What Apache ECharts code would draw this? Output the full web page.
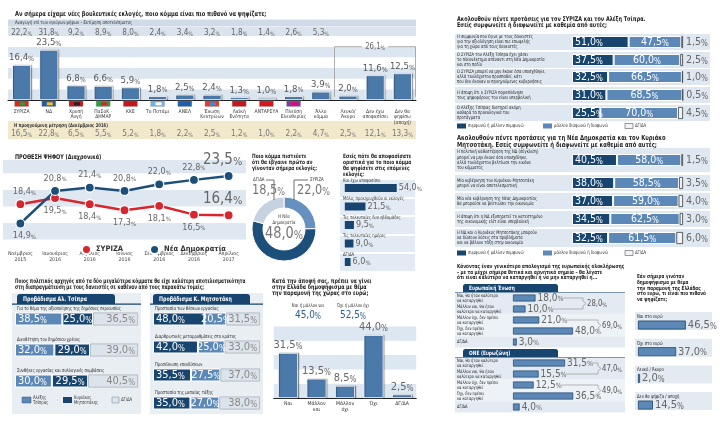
<!DOCTYPE html>
<html>
<head>
<meta charset="utf-8">
<script src="https://cdn.jsdelivr.net/npm/echarts@6/dist/echarts.min.js"></script>
<style>html,body{margin:0;padding:0;background:#fff;}#chart{width:725px;height:430px;}</style>
</head>
<body>
<div id="chart"></div>
<script>
// ================= DATA =================
const partyNames = ['ΣΥΡΙΖΑ','ΝΔ','Χρυσή\nΑυγή','ΠαΣοΚ -\nΔΗΜΑΡ','ΚΚΕ','Το Ποτάμι','ΑΝΕΛ','Ένωση\nΚεντρώων','Λαϊκή\nΕνότητα','ΑΝΤΑΡΣΥΑ','Πλεύση\nΕλευθερίας','Άλλο\nκόμμα','Λευκό/\nΆκυρο','Δεν έχω\nαποφασίσει','Δεν θα\nψηφίσω\n(αποχή)'];
const voteIntention = [16.4,23.5,6.8,6.6,5.9,1.8,2.5,2.4,1.3,1.0,1.8,3.9,2.0,11.6,12.5];
const voteValidShare = [22.2,31.8,9.2,8.9,8.0,2.4,3.4,3.2,1.8,1.4,2.6,5.3];
const votePrevious = [16.5,22.8,6.5,5.5,5.2,1.8,2.2,2.5,1.2,1.0,2.2,4.7,2.5,12.1,13.3];
const undecidedTotal = 26.1;

const trendDates = ['Νοέμβριος\n2015','Ιανουάριος\n2016','Απρίλιος\n2016','Ιούνιος\n2016','Σεπτέμβριος\n2016','Δεκέμβριος\n2016','Απρίλιος\n2017'];
const trendSyriza = [18.4,19.5,18.4,17.3,18.1,16.5,16.4];
const trendND = [14.9,20.8,21.4,20.8,22.0,22.8,23.5];

const winnerNames = ['ΣΥΡΙΖΑ','Η Νέα Δημοκρατία','ΔΓ/ΔΑ'];
const winnerValues = [22.0,48.0,18.5];

const decideLabels = ['Και έχω αποφασίσει','Μόλις προκηρυχθούν οι εκλογές','Τις τελευταίες δυο εβδομάδες','Τις τελευταίες ημέρες','ΔΓ/ΔΑ'];
const decideValues = [54.0,21.5,9.5,9.0,6.0];

const tsiprasTopics = ['Για το θέμα της αξιοποίησης της δημόσιας περιουσίας','Διευθέτηση του δημόσιου χρέους','Συνθήκες εργασίας και συλλογικές συμβάσεις'];
const tsiprasSideTsipras = [38.5,32.0,30.0];
const tsiprasSideMitsotakis = [25.0,29.0,29.5];
const tsiprasSideDk = [36.5,39.0,40.5];
const mitsTopics = ['Προστασία των θέσεων εργασίας','Διαρθρωτικές μεταρρυθμίσεις στο κράτος','Προσέλκυση επενδύσεων','Προστασία της μεσαίας τάξης'];
const mitsSideMitsotakis = [48.0,42.0,35.5,35.0];
const mitsSideTsipras = [20.5,25.0,27.5,27.0];
const mitsSideDk = [31.5,33.0,37.0,38.0];

const referendumCats = ['Ναι','Μάλλον\nναι','Μάλλον\nόχι','Όχι','ΔΓ/ΔΑ'];
const referendumValues = [31.5,13.5,8.5,44.0,2.5];
const referendumYesTotal = 45.0;
const referendumNoTotal = 52.5;

const syrizaStatements = [
 'Η συμφωνία που έγινε με τους δανειστές\nγια την αξιολόγηση είναι πιο επωφελής\nγια τη χώρα από τους δανειστές',
 'Ο ΣΥΡΙΖΑ του Αλέξη Τσίπρα έχει χάσει\nτο πλεονέκτημα απέναντι στη Νέα Δημοκρατία\nκαι στο πεδίο',
 'Ο ΣΥΡΙΖΑ μπορεί να μην έκανε όσα υποσχέθηκε,\nαλλά τουλάχιστον προσπαθεί, κάτι\nπου δεν έκαναν οι προηγούμενες κυβερνήσεις',
 'Η άποψη ότι ο ΣΥΡΙΖΑ παραπλάνησε\nτους ψηφοφόρους του είναι υπερβολική',
 'Ο Αλέξης Τσίπρας διατηρεί ακόμη\nκαθαρά τα προεκλογικά του\nπροτάγματα'];
const syrizaAgree = [51.0,37.5,32.5,31.0,25.5];
const syrizaDisagree = [47.5,60.0,66.5,68.5,70.0];
const syrizaDk = [1.5,2.5,1.0,0.5,4.5];

const ndStatements = [
 'Η πολιτική καθυστέρηση της ΝΔ (σύγκλιση)\nμπορεί να μην έκανε όσα υποσχέθηκε,\nαλλά τουλάχιστον βελτίωσε την εικόνα\nτου κόμματος',
 'Μία κυβέρνηση του Κυριάκου Μητσοτάκη\nμπορεί να είναι αποτελεσματική',
 'Μία νέα κυβέρνηση της Νέας Δημοκρατίας\nθα μπορούσε να βελτιώσει την οικονομία',
 'Η άποψη ότι η ΝΔ εξυπηρετεί το κατεστημένο\nτης οικονομικής ελίτ είναι υπερβολική',
 'Η ΝΔ και ο Κυριάκος Μητσοτάκης μπορούν\nνα δώσουν λύσεις στα προβλήματα\nκαι να βάλουν τάξη στην οικονομία'];
const ndAgree = [40.5,38.0,37.0,34.5,32.5];
const ndDisagree = [58.0,58.5,59.0,62.5,61.5];
const ndDk = [1.5,3.5,4.0,3.0,6.0];

const abolishLabels = ['Ναι, θα ήταν καλύτερο\nνα καταργηθεί','Μάλλον ναι, θα ήταν\nκαλύτερο να καταργηθεί','Μάλλον όχι, δεν πρέπει\nνα καταργηθεί','Όχι, δεν πρέπει\nνα καταργηθεί','ΔΓ/ΔΑ'];
const euValues = [18.0,10.0,21.0,48.0,3.0];
const euGroupTotals = [28.0,69.0];
const emuValues = [31.5,15.5,12.5,36.5,4.0];
const emuGroupTotals = [47.0,49.0];

const euroVoteLabels = ['Ναι στο ευρώ','Όχι στο ευρώ','Λευκό / Άκυρο','Δεν θα ψήφιζα / αποχή'];
const euroVoteValues = [46.5,37.0,2.0,14.5];

// ================= STYLE / LAYOUT =================
const F = "'Liberation Sans Narrow','DejaVu Sans Condensed','Arial Narrow','Liberation Sans',sans-serif";
const NAVY = '#17456f', MID = '#5b88b7', BAR = '#4a79aa', DKC = '#dde3ea';
const partyLogoColors = [['#e2231a','#2e9a3c'],['#1f5aa6','#f2c230'],['#c4161c','#222'],['#2a9d3c','#d2232a'],['#c4161c','#c4161c'],['#6fb3e0','#ffffff'],['#1d5fa8','#1d5fa8'],['#e6392b','#3a8fd6'],['#c4161c','#c4161c'],['#d3171e','#d3171e'],['#7e3f98','#e5007e']];
const fmt = v => v.toFixed(1).replace('.', ',');
function richOf(size, color){
  return {n:{fontSize:size,color:color,fontFamily:F,verticalAlign:'bottom'},
          p:{fontSize:Math.round(size*0.72),color:color,fontFamily:F,verticalAlign:'bottom'}};
}
function rl(size, color, extra){
  return Object.assign({show:true, formatter:p=>'{n|'+fmt(p.value)+'}{p|%}', rich:richOf(size,color)}, extra||{});
}

const grids=[], xAxes=[], yAxes=[], series=[];
function addGrid(g, xa, ya){
  const i = grids.length;
  grids.push(Object.assign({containLabel:false}, g));
  xAxes.push(Object.assign({gridIndex:i}, xa));
  yAxes.push(Object.assign({gridIndex:i}, ya));
  return i;
}
function valAxis(min,max,extra){
  return Object.assign({type:'value',min,max,axisLine:{show:false},axisTick:{show:false},axisLabel:{show:false},splitLine:{show:false}}, extra||{});
}
function catAxis(data,extra){
  return Object.assign({type:'category',data,axisLine:{show:false},axisTick:{show:false},axisLabel:{show:false},splitLine:{show:false}}, extra||{});
}
function stackBar(gi, data, color, label, item, bw){
  series.push({type:'bar', stack:'st'+gi, xAxisIndex:gi, yAxisIndex:gi, data, barWidth:bw||13,
    itemStyle:Object.assign({color, borderColor:'#fff', borderWidth:1}, item||{}), label});
}

// --- A: vote intention bars
const gA = addGrid({left:8, top:36, width:408, height:64},
  catAxis(partyNames,{axisLine:{show:true,lineStyle:{color:'#222',width:1}},axisLabel:{show:true,interval:0,fontSize:5,lineHeight:5.6,color:'#333',margin:8.5,fontFamily:F}}),
  valAxis(0,30,{interval:5,splitArea:{show:true,areaStyle:{color:['#dce6f0','#ffffff']}}}));
series.push({type:'bar', xAxisIndex:gA, yAxisIndex:gA, data:voteIntention, barWidth:19,
  itemStyle:{color:BAR, borderColor:'#ffffff', borderWidth:0.8, shadowColor:'rgba(0,0,0,0.35)', shadowBlur:1, shadowOffsetX:1},
  label:rl(9.5,'#555',{position:'top',distance:2})});

// --- B: trend lines
const gB = addGrid({left:3, top:160, width:243, height:79.5},
  catAxis(trendDates,{axisLabel:{show:true,interval:0,fontSize:5.2,lineHeight:6.2,color:'#444',margin:11,fontFamily:F}}),
  valAxis(12,26.4,{interval:3,splitArea:{show:true,areaStyle:{color:['#dfe8f1','#ffffff']}}}));
const smallRich = richOf(9,'#666'), bigRich = richOf(15,'#666');
function trendSeries(name, vals, pos, color){
  return {type:'line', name, xAxisIndex:gB, yAxisIndex:gB, z:5,
    data: vals.map((v,i)=>{ const last=i===vals.length-1;
      return {value:v, label:{position:pos[i], offset:last?[-6,0]:(i===0?[4,0]:[0,0]), rich:last?bigRich:smallRich}}; }),
    symbol:'circle', symbolSize:9, lineStyle:{color, width:2.5},
    itemStyle:{color, borderColor:'#fff', borderWidth:1.2},
    label:{show:true, distance:3, formatter:p=>'{n|'+fmt(p.value)+'}{p|%}', rich:smallRich}};
}
series.push(trendSeries('ΣΥΡΙΖΑ', trendSyriza, ['top','bottom','bottom','bottom','bottom','bottom','top'], '#d8262e'));
series.push(trendSeries('Νέα Δημοκρατία', trendND, ['bottom','top','top','top','top','top','top'], '#1c4f7a'));

// --- C: donut
const winnerColors = ['#6690bd', '#1c4f7a', '#c5d2df'];
series.push({type:'pie', center:[284,229], radius:[21,32], startAngle:90, clockwise:true, silent:true,
  label:{show:false}, labelLine:{show:false}, itemStyle:{borderColor:'#fff',borderWidth:1},
  data: winnerNames.map((n,i)=>({name:n, value:winnerValues[i], itemStyle:{color:winnerColors[i], borderColor:'#fff', borderWidth:1}}))});

// --- D: when decided
const gD = addGrid({left:340, top:178.75, width:75, height:92.5}, valAxis(-5,73),
  catAxis(decideLabels,{inverse:true,splitArea:{show:true,areaStyle:{color:['#e2eaf3','#e2eaf3']}},splitLine:{show:true,lineStyle:{color:'#fff',width:2}}}));
series.push({type:'bar', xAxisIndex:gD, yAxisIndex:gD, data:decideValues, barWidth:8, itemStyle:{color:NAVY},
  label:rl(9,'#666',{position:'right',distance:2})});

// --- E: leaders
const gE1 = addGrid({left:15, top:303.5, width:123, height:93}, valAxis(0,100), catAxis(tsiprasTopics,{inverse:true}));
stackBar(gE1, tsiprasSideTsipras, MID, rl(11,'#fff',{position:'insideLeft',distance:3}));
stackBar(gE1, tsiprasSideMitsotakis, NAVY, rl(11,'#fff',{position:'inside'}));
stackBar(gE1, tsiprasSideDk, DKC, rl(11,'#888',{position:'insideRight',distance:3}), {borderColor:'#aab3bd',borderWidth:0.8});
const gE2 = addGrid({left:153, top:305, width:107, height:112}, valAxis(0,100), catAxis(mitsTopics,{inverse:true}));
stackBar(gE2, mitsSideMitsotakis, NAVY, rl(11,'#fff',{position:'insideLeft',distance:3}));
stackBar(gE2, mitsSideTsipras, MID, rl(11,'#fff',{position:'inside'}));
stackBar(gE2, mitsSideDk, DKC, rl(11,'#888',{position:'insideRight',distance:3}), {borderColor:'#aab3bd',borderWidth:0.8});

// --- F: referendum
const gF = addGrid({left:273.75, top:326.5, width:142.5, height:71.5},
  catAxis(referendumCats,{axisLine:{show:true,lineStyle:{color:'#222'}},axisLabel:{show:true,interval:0,fontSize:5.2,lineHeight:5.8,color:'#333',margin:3,fontFamily:F}}),
  valAxis(0,50,{interval:10,splitArea:{show:true,areaStyle:{color:['#dde7f1','#ffffff']}}}));
series.push({type:'bar', xAxisIndex:gF, yAxisIndex:gF, data:referendumValues, barWidth:20,
  itemStyle:{color:BAR, borderColor:'#fff', borderWidth:0.8, shadowColor:'rgba(0,0,0,0.35)', shadowBlur:1, shadowOffsetX:1},
  label:rl(11,'#666',{position:'top',distance:2})});

// --- G/H: statements
function statementRow(cy,h,a,d,k){
  const gi = addGrid({left:455,width:255,top:cy-h/2,height:h}, valAxis(-105.4,124.3),
    catAxis([''],{splitArea:{show:true,areaStyle:{color:['#dfe8f1']}}}));
  stackBar(gi,[a],NAVY,rl(10.5,'#fff',{position:'insideLeft',distance:3}),null,12);
  stackBar(gi,[d],MID,rl(10.5,'#fff',{position:'inside'}),null,12);
  stackBar(gi,[k],'#f1f3f6',rl(10.5,'#666',{position:'right',distance:3}),{borderColor:'#3b3b3b',borderWidth:0.8},12);
  return gi;
}
const syrizaRowY = [42,60,77,95,113], syrizaRowH = [16,16,16,16,16];
const ndRowY = [160,183,201,219,238], ndRowH = [24,16,16,16,18];
syrizaAgree.forEach((v,i)=>statementRow(syrizaRowY[i],syrizaRowH[i],v,syrizaDisagree[i],syrizaDk[i]));
ndAgree.forEach((v,i)=>statementRow(ndRowY[i],ndRowH[i],v,ndDisagree[i],ndDk[i]));

// --- EU / EMU
const gEU = addGrid({left:455,width:170,top:292.5,height:55}, valAxis(-46.4,89.6),
  catAxis(abolishLabels,{inverse:true,splitArea:{show:true,areaStyle:{color:['#e3eaf2','#edf2f7']}}}));
series.push({type:'bar', xAxisIndex:gEU, yAxisIndex:gEU, data:euValues, barWidth:7,
  itemStyle:{color:MID,borderColor:'#23456a',borderWidth:0.7}, label:rl(10,'#666',{position:'right',distance:2})});
const gEMU = addGrid({left:455,width:170,top:357.5,height:55}, valAxis(-35.2,67.9),
  catAxis(abolishLabels,{inverse:true,splitArea:{show:true,areaStyle:{color:['#e3eaf2','#edf2f7']}}}));
series.push({type:'bar', xAxisIndex:gEMU, yAxisIndex:gEMU, data:emuValues, barWidth:7,
  itemStyle:{color:MID,borderColor:'#23456a',borderWidth:0.7}, label:rl(10,'#666',{position:'right',distance:2})});

// --- RB: euro referendum vote
const gRB = addGrid({left:635,width:77,top:311.7,height:106.7}, valAxis(-2.9,71.9), catAxis(euroVoteLabels,{inverse:true}));
series.push({type:'bar', xAxisIndex:gRB, yAxisIndex:gRB, data:euroVoteValues, barWidth:9, z:3,
  itemStyle:{color:MID,borderColor:'#23456a',borderWidth:0.8}, label:rl(11,'#666',{position:'right',distance:2})});

const chart = echarts.init(document.getElementById('chart'));
chart.setOption({
  animation:false, backgroundColor:'#ffffff', textStyle:{fontFamily:F},
  grid:grids, xAxis:xAxes, yAxis:yAxes, series,
  legend:{data:['ΣΥΡΙΖΑ','Νέα Δημοκρατία'], left:76, top:239, icon:'circle', itemWidth:9, itemHeight:9, itemGap:26,
    selectedMode:false, textStyle:{fontSize:7.5, fontWeight:'bold', color:'#333', fontFamily:F}}
});

// ================= DECORATION / TEXT =================
const SX = 0.84;
function T(x,y,text,size,o){ o=o||{}; const a=o.align||'left', va=o.va||'middle';
  return {type:'text', x, y, scaleX:o.sx||SX, silent:true, z:o.z||30, style:{text, fill:o.color||'#222',
    font:(o.bold?'bold ':'')+size+'px '+F, textAlign:a, align:a, textVerticalAlign:va, verticalAlign:va, lineHeight:o.lh||size*1.1}}; }
function P(x,y,v,size,color,align){ const a=align||'center';
  return {type:'text', x, y, scaleX:0.9, silent:true, z:30, style:{text:'{n|'+fmt(v)+'}{p|%}',
    rich:{n:{fontSize:size,fontFamily:F,fill:color,color:color,verticalAlign:'bottom'},p:{fontSize:Math.round(size*0.72),fontFamily:F,fill:color,color:color,verticalAlign:'bottom'}},
    fill:color, font:size+'px '+F, textAlign:a, align:a, textVerticalAlign:'middle', verticalAlign:'middle'}}; }
function R(x,y,w,h,fill,o){ o=o||{};
  return {type:'rect', silent:true, z:o.z!=null?o.z:-5, shape:{x,y,width:w,height:h,r:o.r||0},
    style:{fill, stroke:o.stroke||null, lineWidth:o.lw||0}}; }
function L(points,color,w){ return {type:'polyline', silent:true, z:25, shape:{points}, style:{stroke:color||'#999', lineWidth:w||0.8, fill:null}}; }
const px = (gi,x,y)=>chart.convertToPixel({gridIndex:gi},[x,y]);

const G = [];
// A
G.push(T(15,14,'Αν σήμερα είχαμε νέες βουλευτικές εκλογές, ποιο κόμμα είναι πιο πιθανό να ψηφίζατε;',6.8,{bold:true}));
G.push(R(8,19.5,408,7,'#cfdbe8'));
G.push(T(15,23,'Αναγωγή επί των εγκύρων ψήφων – Εκτίμηση αποτελέσματος',5,{color:'#333'}));
G.push(R(8,27,408,10,'#dbe4ee'));
voteValidShare.forEach((v,i)=>G.push(P(px(gA,i,0)[0],32.5,v,9,'#666')));
partyLogoColors.forEach((c,i)=>{ const x = px(gA,i,0)[0];
  G.push(R(x-7,101,14,5.5,c[0],{z:12,stroke:'#999',lw:0.3}));
  G.push(R(x-2,102.3,6,3,c[1],{z:13})); });
G.push(R(8,121,408,18,'#f2e9cc'));
G.push(T(14,125.5,'Η προηγούμενη μέτρηση (Δεκέμβριος 2016)',5,{bold:true,color:'#333'}));
votePrevious.forEach((v,i)=>G.push(P(px(gA,i,0)[0],134,v,9,'#777')));
{ const xl = px(gA,12,0)[0]-13.5, xm = px(gA,13,0)[0], xr = 415.5, yb = px(gA,0,25)[1], yd = px(gA,0,1.5)[1];
  G.push(L([[xl,yd],[xl,yb],[xm-13,yb]],'#9a9a9a',0.8));
  G.push(L([[xm+13,yb],[xr,yb],[xr,yd]],'#9a9a9a',0.8));
  G.push(P(xm,yb,undecidedTotal,8.5,'#666')); }
// B
G.push(T(15,157,'ΠΡΟΘΕΣΗ ΨΗΦΟΥ (Διαχρονικά)',6.5,{bold:true}));
// C
['Ποιο κόμμα πιστεύετε','ότι θα έβγαινε πρώτο αν','γίνονταν σήμερα εκλογές;'].forEach((s,i)=>G.push(T(252,156+6*i,s,5.8,{bold:true})));
G.push(T(253,180,'ΔΓ/ΔΑ',5.2,{color:'#333'}));
G.push(L([[266,180],[274,180],[274,200]],'#333',0.7));
G.push(P(252,190,winnerValues[2],14,'#777','left'));
G.push(T(310,180,'ΣΥΡΙΖΑ',5.2,{color:'#333'}));
G.push(L([[294,200],[294,180],[308,180]],'#333',0.7));
G.push(P(297,190,winnerValues[0],14,'#777','left'));
G.push(T(284,217,'Η Νέα',5,{align:'center',color:'#333'}));
G.push(T(284,222.5,'Δημοκρατία',5,{align:'center',color:'#333'}));
G.push(P(284,234,winnerValues[1],16,'#777','center'));
// D
['Εσείς πότε θα αποφασίσατε','οριστικά για το ποιο κόμμα','θα ψηφίσετε στις επόμενες','εκλογές;'].forEach((s,i)=>G.push(T(343,156+6*i,s,5.8,{bold:true})));
decideLabels.forEach((s,i)=>G.push(T(343,px(gD,0,i)[1]-7.5,s,5,{color:'#333'})));
// E
G.push(T(15,281,'Ποιος πολιτικός αρχηγός από τα δύο μεγαλύτερα κόμματα θα είχε καλύτερη αποτελεσματικότητα',6.3,{bold:true,sx:0.74}));
G.push(T(15,287.5,'στη διαπραγμάτευση με τους δανειστές σε καθέναν από τους παρακάτω τομείς;',6.3,{bold:true,sx:0.74}));
G.push(R(12,293,129,121,'#e9eef3'));
G.push(R(150,293,113,121,'#e9eef3'));
G.push(R(17,294,98,10,NAVY,{r:[3,3,0,0],z:-4}));
G.push(R(12,303.5,129,1.3,NAVY,{z:-4}));
G.push(T(23,299,'Προβάδισμα Αλ. Τσίπρα',6.3,{bold:true,color:'#fff'}));
G.push(R(153,294,97,10,NAVY,{r:[3,3,0,0],z:-4}));
G.push(R(150,303.5,113,1.3,NAVY,{z:-4}));
G.push(T(159,299,'Προβάδισμα Κ. Μητσοτάκη',6.3,{bold:true,color:'#fff'}));
tsiprasTopics.forEach((s,i)=>G.push(T(17,px(gE1,0,i)[1]-10.5,s,5,{color:'#222'})));
mitsTopics.forEach((s,i)=>G.push(T(155,px(gE2,0,i)[1]-10.5,s,5,{color:'#222'})));
G.push(R(22,397,9,6,MID,{z:10,stroke:'#3a5a7a',lw:0.5}));
G.push(T(33,400,'Αλέξης\nΤσίπρας',5,{color:'#333',lh:5.3}));
G.push(R(63,397,9,6,NAVY,{z:10}));
G.push(T(74,400,'Κυριάκος\nΜητσοτάκης',5,{color:'#333',lh:5.3}));
G.push(R(112,397,7,6,DKC,{z:10,stroke:'#8a96a2',lw:0.6}));
G.push(T(121,400,'ΔΓ/ΔΑ',5,{color:'#333'}));
// F
['Κατά την άποψή σας, πρέπει να γίνει','στην Ελλάδα δημοψήφισμα με θέμα','την παραμονή της χώρας στο ευρώ;'].forEach((s,i)=>G.push(T(272,281+6.2*i,s,6.3,{bold:true})));
G.push(T(308,306,'Ναι ή μάλλον ναι',5,{align:'center',color:'#333'}));
G.push(P(308,315,referendumYesTotal,11,'#2d5d8c'));
G.push(T(353,306,'Όχι ή μάλλον όχι',5,{align:'center',color:'#333'}));
G.push(P(353,315,referendumNoTotal,11,'#2d5d8c'));
// G
G.push(T(457,19,'Ακολουθούν πέντε προτάσεις για τον ΣΥΡΙΖΑ και τον Αλέξη Τσίπρα.',6.5,{bold:true}));
G.push(T(457,25.5,'Εσείς συμφωνείτε ή διαφωνείτε με καθεμία από αυτές;',6.5,{bold:true}));
syrizaStatements.forEach((s,i)=>G.push(T(457,syrizaRowY[i],s,4.9,{color:'#222',lh:5.2})));
function legendRow(y){
  G.push(R(457,y-2.5,9,5,NAVY,{z:10}));
  G.push(T(468,y,'συμφωνώ ή μάλλον συμφωνώ',5,{color:'#333'}));
  G.push(R(543,y-2.5,9,5,MID,{z:10}));
  G.push(T(554,y,'μάλλον διαφωνώ ή διαφωνώ',5,{color:'#333'}));
  G.push(R(625,y-2.5,8,5,'#f1f3f6',{z:10,stroke:'#555',lw:0.6}));
  G.push(T(635,y,'ΔΓ/ΔΑ',5,{color:'#333'}));
}
legendRow(126);
// H
G.push(T(457,138,'Ακολουθούν πέντε προτάσεις για τη Νέα Δημοκρατία και τον Κυριάκο',7,{bold:true}));
G.push(T(457,145,'Μητσοτάκη. Εσείς συμφωνείτε ή διαφωνείτε με καθεμία από αυτές;',7,{bold:true}));
ndStatements.forEach((s,i)=>G.push(T(457,ndRowY[i],s,4.9,{color:'#222',lh:5.2})));
legendRow(253);
// EU / EMU
['Κάνοντας έναν γενικότερο απολογισμό της ευρωπαϊκής ολοκλήρωσης','– με τα μέχρι σήμερα θετικά και αρνητικά σημεία – θα λέγατε','ότι είναι καλύτερο να καταργηθεί ή να μην καταργηθεί η...'].forEach((s,i)=>G.push(T(457,266.5+5.7*i,s,5.6,{bold:true})));
G.push(R(463,284,95,8.5,NAVY,{r:[2.5,2.5,0,0],z:-4}));
G.push(R(455,292,170,1,NAVY,{z:-4}));
G.push(T(469,288.3,'Ευρωπαϊκή Ένωση',5.8,{bold:true,color:'#fff'}));
G.push(R(463,349,95,8.5,NAVY,{r:[2.5,2.5,0,0],z:-4}));
G.push(R(455,357,170,1,NAVY,{z:-4}));
G.push(T(469,353.3,'ΟΝΕ (Ευρωζώνη)',5.8,{bold:true,color:'#fff'}));
abolishLabels.forEach((s,i)=>{ G.push(T(457,px(gEU,0,i)[1],s,4.7,{color:'#222',lh:4.9})); G.push(T(457,px(gEMU,0,i)[1],s,4.7,{color:'#222',lh:4.9})); });
function bracket(gi, vals, r0, bx, total){
  const y0 = px(gi,0,r0)[1], y1 = px(gi,0,r0+1)[1], ym=(y0+y1)/2;
  const s0 = Math.min(px(gi,vals[r0],r0)[0]+27, bx-1), s1 = Math.min(px(gi,vals[r0+1],r0+1)[0]+27, bx-1);
  G.push(L([[s0,y0],[bx,y0],[bx,ym-2.5],[bx+3,ym],[bx,ym+2.5],[bx,y1],[s1,y1]],'#9a9a9a',0.7));
  G.push(P(bx+4,ym,total,8.5,'#555','left'));
}
bracket(gEU, euValues, 0, 583, euGroupTotals[0]);
bracket(gEU, euValues, 2, 598, euGroupTotals[1]);
bracket(gEMU, emuValues, 0, 598, emuGroupTotals[0]);
bracket(gEMU, emuValues, 2, 598, emuGroupTotals[1]);
// RB
['Εάν σήμερα γινόταν','δημοψήφισμα με θέμα','την παραμονή της Ελλάδας','στο ευρώ, τι είναι πιο πιθανό','να ψηφίζατε;'].forEach((s,i)=>G.push(T(637,277+5.6*i,s,5.5,{bold:true})));
euroVoteLabels.forEach((s,i)=>{ const cy = px(gRB,0,i)[1];
  G.push(R(635,cy-13,77,18,'#e3eaf2'));
  G.push(T(637,cy-8.5,s,5,{color:'#222'})); });

chart.setOption({graphic:{elements:G}});
</script>
</body>
</html>
